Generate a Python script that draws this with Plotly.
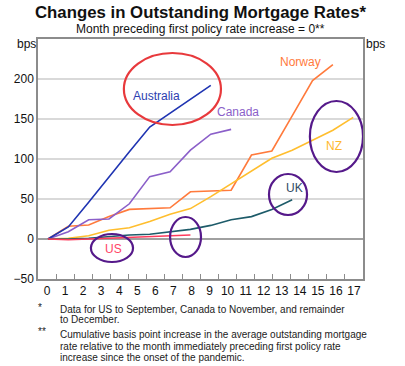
import plotly.graph_objects as go

# ---------------- data ----------------
month_labels = [str(i) for i in range(18)]
y_ticks = [-50, 0, 50, 100, 150, 200]

australia = [0, 15, 46, 78, 109, 140, 157, 175, 192]
canada = [0, 9, 24, 25, 44, 78, 84, 111, 131, 137]
norway = [0, 16, 17.5, 28, 37, 38, 39, 59, 60, 61, 105, 110, 154, 198, 218]
nz = [0, 1, 4, 11, 14, 22, 31, 38, 53, 69, 85, 101, 111, 124, 136, 152]
uk = [0, 0, 1, 3, 5, 6, 9, 12, 17, 24, 28, 37, 49]
us = [0, -1, 0, 1, 2, 3, 4, 5]

series_names = ["Norway", "NZ", "Canada", "Australia", "UK", "US"]
series_values = [norway, nz, canada, australia, uk, us]
series_colors = ["#FF7A3C", "#FFBE2E", "#8B5FC9", "#1F34B2", "#1D5B69", "#FF3B5C"]

# labels placed in data coordinates (month, bps)
label_text = ["Australia", "Canada", "Norway", "NZ", "UK", "US"]
label_x = [5.34, 9.34, 12.43, 14.05, 12.12, 3.21]
label_y = [179, 159, 221, 116, 63.5, -13]
label_colors = ["#2B3DB0", "#8B5FC9", "#FF7A3C", "#FFB82E", "#2F4A63", "#FF4466"]

# highlight ellipses: (x0, x1, y0, y1, colour)
ellipses = [
    (3.73, 8.50, 142.5, 232.5, "#E8393C"),
    (12.87, 15.48, 83.75, 172.5, "#55198A"),
    (10.86, 12.73, 30, 81.25, "#55198A"),
    (2.11, 4.18, -28.75, 6.25, "#55198A"),
    (6.00, 7.52, -22.5, 27.5, "#55198A"),
]

FONT = "Arial, Liberation Sans, sans-serif"
frame = "#8C8C8C"

# x range of the data axis; the printed month labels (0..17) are spread
# evenly over 18 equal slots across the same width (as in the original chart)
X_LO, X_HI = -0.49, 15.48
n_slots = len(month_labels)
slot = (X_HI - X_LO) / n_slots
label_pos = [X_LO + (i + 0.5) * slot for i in range(n_slots)]
boundary_pos = [X_LO + (i + 1) * slot for i in range(n_slots - 1)]

fig = go.Figure()
for name, vals, col in zip(series_names, series_values, series_colors):
    fig.add_trace(go.Scatter(
        x=list(range(len(vals))), y=vals, mode="lines", name=name,
        line=dict(color=col, width=1.6), hoverinfo="skip"))

shapes = []
for x0, x1, y0, y1, col in ellipses:
    shapes.append(dict(type="circle", xref="x", yref="y", x0=x0, x1=x1,
                       y0=y0, y1=y1, line=dict(color=col, width=2.2)))

annotations = []
for t, x, y, c in zip(label_text, label_x, label_y, label_colors):
    annotations.append(dict(text=t, x=x, y=y, xref="x", yref="y",
                            xanchor="center", yanchor="middle",
                            showarrow=False, font=dict(size=12, color=c, family=FONT)))

# title, subtitle, unit labels (paper coordinates)
top_texts = [
    ("<b>Changes in Outstanding Mortgage Rates*</b>", 200.8, 12.7, 16.8),
    ("Month preceding first policy rate increase = 0**", 200.8, 29.3, 12),
    ("bps", 26, 43.5, 12),
    ("bps", 375.5, 43.5, 12),
]
for text, px, py, size in top_texts:
    annotations.append(dict(
        text=text, x=(px - 38) / 325, y=(279 - py) / 240, xref="paper", yref="paper",
        xanchor="center", yanchor="middle", showarrow=False,
        font=dict(size=size, color="#111", family=FONT)))

foot_lines = [
    ("*", 307.5, 0),
    ("Data for US to September, Canada to November, and remainder", 309.3, 1),
    ("to December.", 319.5, 1),
    ("**", 331.0, 0),
    ("Cumulative basis point increase in the average outstanding mortgage", 334.3, 1),
    ("rate relative to the month immediately preceding first policy rate", 346.0, 1),
    ("increase since the onset of the pandemic.", 357.3, 1),
]
for text, py, indent in foot_lines:
    px = 58 if indent else 36
    annotations.append(dict(
        text=text, x=(px - 38) / 325, y=(279 - py) / 240, xref="paper", yref="paper",
        xanchor="left", yanchor="middle", showarrow=False,
        font=dict(size=10, color="#222", family=FONT)))

fig.update_layout(
    width=405, height=366,
    margin=dict(l=38, r=42, t=39, b=87),
    paper_bgcolor="white", plot_bgcolor="white",
    showlegend=False,
    font=dict(family=FONT, size=12, color="#111"),
    xaxis=dict(range=[X_LO, X_HI], tickmode="array", tickvals=label_pos,
               ticktext=month_labels, ticks="", showgrid=False, zeroline=False,
               showline=True, linecolor=frame, linewidth=1.5, mirror=True,
               tickfont=dict(size=12, color="#111"), fixedrange=True,
               minor=dict(tickmode="array", tickvals=boundary_pos, ticks="inside",
                          ticklen=5, tickwidth=1, tickcolor=frame, showgrid=False)),
    yaxis=dict(range=[-50, 250], tickmode="array", tickvals=y_ticks,
               showgrid=True, gridcolor="#D9D9D9", gridwidth=1.5,
               zeroline=True, zerolinecolor="#A0A0A0", zerolinewidth=2,
               showline=True, linecolor=frame, linewidth=1.5, mirror=True,
               ticks="", tickfont=dict(size=12, color="#111"), fixedrange=True),
    yaxis2=dict(overlaying="y", side="right", anchor="x", range=[-50, 250],
                tickmode="array", tickvals=y_ticks, showgrid=False, zeroline=False,
                showline=False, ticks="", tickfont=dict(size=12, color="#111"),
                fixedrange=True),
    shapes=shapes,
    annotations=annotations,
)

fig.write_html("out.html", config={"displayModeBar": False},
               post_script="document.body.style.margin='0';document.body.style.overflow='hidden';")
